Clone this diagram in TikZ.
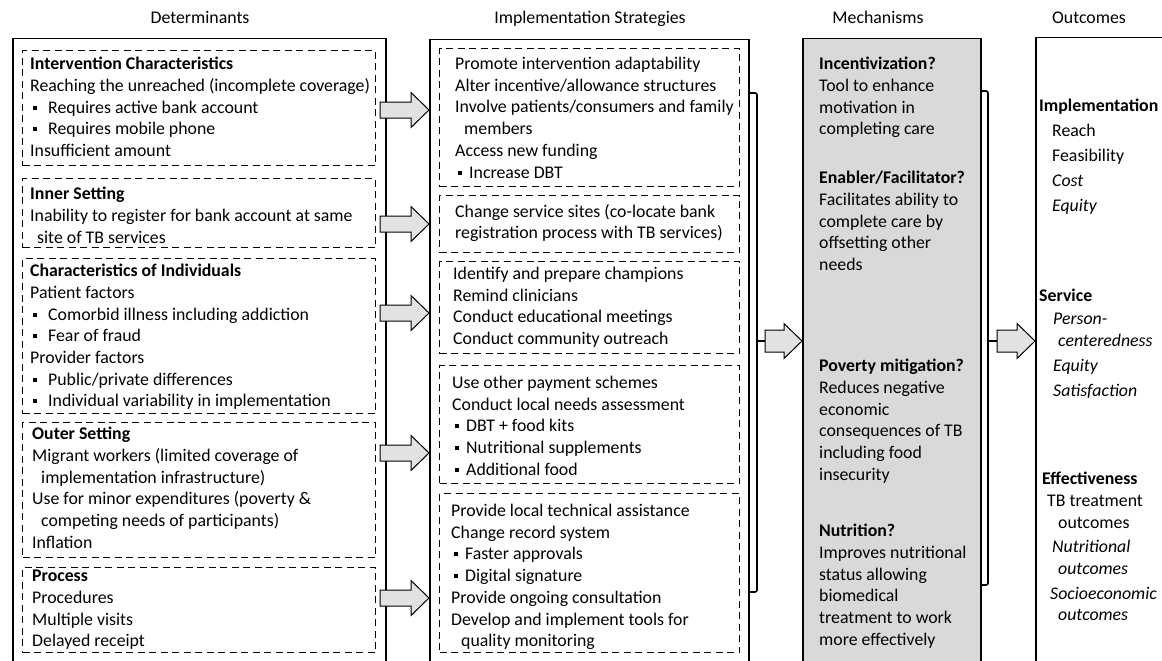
\documentclass[tikz,border=0pt]{standalone}
\usepackage{fontspec}
\setmainfont{Carlito}
\usetikzlibrary{calc}
\definecolor{mechgray}{HTML}{D9D9D9}
\definecolor{arrowgray}{HTML}{E2E2E2}
\tikzset{
  outbox/.style={draw,line width=1.5pt,anchor=north west,inner sep=0pt},
  dbox/.style={draw,line width=1.3pt,dash pattern=on 7pt off 4.5pt,anchor=north west,inner sep=0pt},
  % placed at the baseline of the first line
  txt/.style={anchor=north west,yshift=11pt,align=left,inner sep=0pt,
    execute at begin node={\rule{0pt}{15pt}}},
  colhead/.style={anchor=base,inner sep=0pt},
  barrow/.style={draw,fill=arrowgray,line width=1pt,line join=miter},
  brace/.style={line width=1.6pt,rounded corners=2pt},
}
% small square bullet, #1 = width up to the item text
\newcommand{\bul}[1][18pt]{\makebox[#1][l]{\hspace{2.5pt}\raisebox{3.5pt}{\rule{4pt}{4pt}}}}
% block arrow: #1 tail coordinate, #2 target node, #3 half height of shaft
\newcommand{\blockarrow}[3]{%
  \draw[barrow] let \p1=(#1), \p2=(#2.west) in
    (\x1,\y1+#3) -- (\x2-18pt,\y1+#3) -- (\x2-18pt,\y1+17.5pt) -- (\x2,\y1)
    -- (\x2-18pt,\y1-17.5pt) -- (\x2-18pt,\y1-#3) -- (\x1,\y1-#3) -- cycle;}

\begin{document}
\begin{tikzpicture}[x=1pt,y=-1pt,font=\fontsize{17.8}{21.7}\selectfont]
\useasboundingbox (0,0) rectangle (1162,661);
\clip (0,0) rectangle (1162,661);
% ---------- column heads ----------
\node[colhead] (hdet)  at (200,24)  {Determinants};
\node[colhead] (hstr)  at (590,24)  {Implementation Strategies};
\node[colhead] (hmech) at (878,24)  {Mechanisms};
\node[colhead] (hout)  at (1089,24) {Outcomes};
% ---------- determinants ----------
\node[outbox,minimum width=373pt,minimum height=630pt] (det) at (12,38) {};
\node[dbox,minimum width=353pt,minimum height=115pt] (dbI) at (22,50)  {};
\node[dbox,minimum width=353pt,minimum height=69pt]  (dbN) at (22,178) {};
\node[dbox,minimum width=353pt,minimum height=155pt] (dbC) at (22,258) {};
\node[dbox,minimum width=353pt,minimum height=135pt] (dbO) at (22,422) {};
\node[dbox,minimum width=353pt,minimum height=85pt]  (dbP) at (22,567) {};
\node[txt] (tI) at (30,68) {\textbf{Intervention Characteristics}\\
  Reaching the unreached (incomplete coverage)\\
  \bul Requires active bank account\\
  \bul Requires mobile phone\\
  Insufficient amount};
\node[txt] (tN) at (30,198) {\textbf{Inner Setting}\\
  Inability to register for bank account at same\\
  \hspace*{7pt}site of TB services};
\node[txt] (tC) at (30,275) {\textbf{Characteristics of Individuals}\\
  Patient factors\\
  \bul Comorbid illness including addiction\\
  \bul Fear of fraud\\
  Provider factors\\
  \bul Public/private differences\\
  \bul Individual variability in implementation};
\node[txt] (tO) at (32,438) {\textbf{Outer Setting}\\
  Migrant workers (limited coverage of\\
  \hspace*{9pt}implementation infrastructure)\\
  Use for minor expenditures (poverty \&\\
  \hspace*{9pt}competing needs of participants)\\
  Inflation};
\node[txt] (tP) at (32,581) {\textbf{Process}\\
  Procedures\\
  Multiple visits\\
  Delayed receipt};
% ---------- implementation strategies ----------
\node[outbox,minimum width=319pt,minimum height=630pt] (strat) at (429,39) {};
\node[dbox,minimum width=300pt,minimum height=138pt] (sb1) at (439,48)  {};
\node[dbox,minimum width=300pt,minimum height=57pt]  (sb2) at (439,195) {};
\node[dbox,minimum width=300pt,minimum height=92pt]  (sb3) at (439,261) {};
\node[dbox,minimum width=300pt,minimum height=118pt] (sb4) at (439,365) {};
\node[dbox,minimum width=300pt,minimum height=159pt] (sb5) at (439,493) {};
\node[txt] (s1) at (455,68) {Promote intervention adaptability\\
  Alter incentive/allowance structures\\
  Involve patients/consumers and family\\
  \hspace*{9pt}members\\
  Access new funding\\
  \bul[14pt]Increase DBT};
\node[txt] (s2) at (455,215) {Change service sites (co-locate bank\\
  registration process with TB services)};
\node[txt] (s3) at (453,278) {Identify and prepare champions\\
  Remind clinicians\\
  Conduct educational meetings\\
  Conduct community outreach};
\node[txt] (s4) at (452,387) {Use other payment schemes\\
  Conduct local needs assessment\\
  \bul[14pt]DBT + food kits\\
  \bul[14pt]Nutritional supplements\\
  \bul[14pt]Additional food};
\node[txt] (s5) at (451,515) {Provide local technical assistance\\
  Change record system\\
  \bul[14pt]Faster approvals\\
  \bul[14pt]Digital signature\\
  Provide ongoing consultation\\
  Develop and implement tools for\\
  \hspace*{10pt}quality monitoring};
% ---------- mechanisms ----------
\node[outbox,fill=mechgray,minimum width=178pt,minimum height=630pt] (mech) at (802,38) {};
\node[txt] (m1) at (819,68) {\textbf{Incentivization?}\\
  Tool to enhance\\ motivation in\\ completing care};
\node[txt] (m2) at (819,182) {\textbf{Enabler/Facilitator?}\\
  Facilitates ability to\\ complete care by\\ offsetting other\\ needs};
\node[txt] (m3) at (819,370) {\textbf{Poverty mitigation?}\\
  Reduces negative\\ economic\\ consequences of TB\\ including food\\ insecurity};
\node[txt] (m4) at (819,535) {\textbf{Nutrition?}\\
  Improves nutritional\\ status allowing\\ biomedical\\ treatment to work\\ more effectively};
% ---------- outcomes ----------
\node[outbox,minimum width=140pt,minimum height=630pt] (outc) at (1035,37) {};
\node[txt,font=\fontsize{17.8}{21.5}\selectfont] (o1) at (1039,110) {\textbf{Implementation}\\[3.5pt]
  \hspace*{13pt}Reach\\[3.5pt]
  \hspace*{13pt}Feasibility\\[3.5pt]
  \hspace*{13pt}\textit{Cost}\\[3.5pt]
  \hspace*{13pt}\textit{Equity}};
\node[txt,font=\fontsize{17.8}{21.5}\selectfont] (o2) at (1039,300) {\textbf{Service}\\[1.5pt]
  \hspace*{14pt}\textit{Person-}\\
  \hspace*{19pt}\textit{centeredness}\\[3.5pt]
  \hspace*{14pt}\textit{Equity}\\[3.5pt]
  \hspace*{14pt}\textit{Satisfaction}};
\node[txt,font=\fontsize{17.8}{21.5}\selectfont] (o3) at (1042,483) {\textbf{Effectiveness}\\[0.5pt]
  \hspace*{5pt}TB treatment\\
  \hspace*{16pt}outcomes\\[3pt]
  \hspace*{10pt}\textit{Nutritional}\\
  \hspace*{16pt}\textit{outcomes}\\[3.5pt]
  \hspace*{8pt}\textit{Socioeconomic}\\
  \hspace*{16pt}\textit{outcomes}};
% ---------- arrows and brackets ----------
\foreach \k/\y in {1/110,2/224,3/313,4/453,5/598}
  \coordinate (dt\k) at (380,\y);
\foreach \k in {1,...,5}
  \blockarrow{dt\k}{strat}{8pt};
\draw[brace] (750,93) -- (757,93) -- (757,592) -- (750,592);
\draw[brace] (981,91) -- (988,91) -- (988,585) -- (981,585);
\coordinate (sbr) at (757,341);
\coordinate (sarr) at (765,341);
\coordinate (mbr) at (988,341);
\coordinate (marr) at (997,341);
\draw[brace] (sbr) -- (sarr);
\draw[brace] (mbr) -- (marr);
\blockarrow{sarr}{mech}{11pt}
\blockarrow{marr}{outc}{11pt}
\end{tikzpicture}
\end{document}
